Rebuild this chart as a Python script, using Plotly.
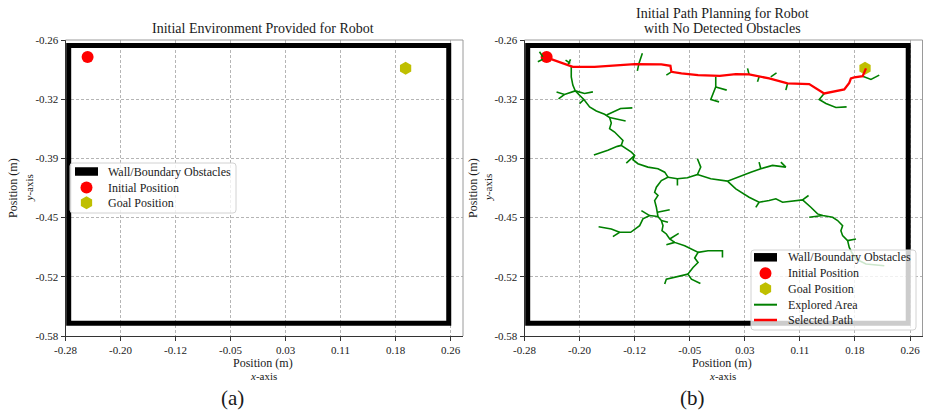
import plotly.graph_objects as go

# ---------------- data ----------------
x_tick_vals = [-0.28, -0.2029, -0.1257, -0.0486, 0.0286, 0.1057, 0.1829, 0.26]
x_tick_text = ["-0.28", "-0.20", "-0.12", "-0.05", "0.03", "0.11", "0.18", "0.26"]
y_tick_vals = [-0.58, -0.516, -0.452, -0.388, -0.324, -0.26]
y_tick_text = ["-0.58", "-0.52", "-0.45", "-0.39", "-0.32", "-0.26"]

wall_x = [-0.2755, 0.2575, 0.2575, -0.2755, -0.2755, 0.2575]
wall_y = [-0.266, -0.266, -0.5662, -0.5662, -0.266, -0.266]

start_x = [-0.249]
start_y = [-0.2785]
goal_x = [0.197]
goal_y = [-0.2905]

path_x = [-0.2496, -0.2193, -0.2123, -0.1818, -0.1257, -0.0883, -0.0756, -0.0742,
          -0.0602, -0.0369, -0.0065, 0.0160, 0.0346, 0.0627, 0.0885, 0.1188,
          0.1398, 0.1679, 0.1749, 0.1772, 0.1819, 0.1937, 0.1983]
path_y = [-0.2788, -0.2871, -0.2890, -0.2890, -0.2860, -0.2864, -0.2879, -0.2944,
          -0.2961, -0.2980, -0.2987, -0.2969, -0.2972, -0.3015, -0.3070, -0.3077,
          -0.3178, -0.3135, -0.3063, -0.3015, -0.3005, -0.2991, -0.2907]

explored_branches = [
    # main trunk
    [(-0.2145, -0.2890), (-0.2145, -0.2998), (-0.2123, -0.3088), (-0.2089, -0.3150),
     (-0.2029, -0.3197), (-0.1968, -0.3243), (-0.1888, -0.3323), (-0.1794, -0.3367),
     (-0.1678, -0.3403), (-0.1608, -0.3438), (-0.1584, -0.3497), (-0.1608, -0.3558),
     (-0.1538, -0.3595), (-0.1468, -0.3649), (-0.1421, -0.3685), (-0.1444, -0.3739),
     (-0.1374, -0.3775), (-0.1303, -0.3812), (-0.1257, -0.3847), (-0.1281, -0.3894),
     (-0.1211, -0.3937), (-0.1071, -0.3974), (-0.0930, -0.3992), (-0.0836, -0.4029),
     (-0.0790, -0.4083), (-0.0883, -0.4119), (-0.0953, -0.4191), (-0.0977, -0.4246),
     (-0.0930, -0.4281), (-0.0977, -0.4336), (-0.0953, -0.4408), (-0.0939, -0.4462),
     (-0.0930, -0.4509), (-0.0883, -0.4552), (-0.0860, -0.4607), (-0.0874, -0.4661),
     (-0.0813, -0.4697), (-0.0766, -0.4751), (-0.0696, -0.4788), (-0.0556, -0.4824),
     (-0.0462, -0.4859), (-0.0369, -0.4896), (-0.0416, -0.4957), (-0.0369, -0.5005),
     (-0.0439, -0.5059), (-0.0510, -0.5131), (-0.0462, -0.5185), (-0.0336, -0.5233)],
    [(-0.0510, -0.5131), (-0.0626, -0.5149), (-0.0813, -0.5185), (-0.0836, -0.5239)],
    [(-0.0369, -0.4896), (-0.0229, -0.4878), (-0.0027, -0.4878), (-0.0027, -0.4951)],
    [(-0.0766, -0.4751), (-0.0640, -0.4690)],
    [(-0.0696, -0.4788), (-0.0813, -0.4813)],
    [(-0.0930, -0.4509), (-0.1047, -0.4498), (-0.1141, -0.4534), (-0.1187, -0.4607),
     (-0.1313, -0.4679), (-0.1468, -0.4679), (-0.1562, -0.4726)],
    [(-0.1468, -0.4679), (-0.1584, -0.4643), (-0.1762, -0.4618)],
    [(-0.1047, -0.4498), (-0.1163, -0.4444)],
    [(-0.0939, -0.4462), (-0.0766, -0.4436)],
    [(-0.0883, -0.4552), (-0.0790, -0.4571)],
    # upper branches
    [(-0.2089, -0.3150), (-0.2239, -0.3189), (-0.2351, -0.3161)],
    [(-0.2239, -0.3189), (-0.2323, -0.3237)],
    [(-0.2089, -0.3150), (-0.1958, -0.3178), (-0.1842, -0.3161)],
    [(-0.1968, -0.3243), (-0.2029, -0.3287)],
    [(-0.1650, -0.3410), (-0.1454, -0.3341), (-0.1289, -0.3334)],
    [(-0.1608, -0.3438), (-0.1383, -0.3475)],
    [(-0.1444, -0.3739), (-0.1500, -0.3750), (-0.1632, -0.3793), (-0.1828, -0.3844)],
    [(-0.1257, -0.3847), (-0.1374, -0.3931)],
    # arc and right-hand branches
    [(-0.0790, -0.4083), (-0.0658, -0.4100), (-0.0518, -0.4089), (-0.0378, -0.4054),
     (-0.0331, -0.3974), (-0.0378, -0.3883)],
    [(-0.0658, -0.4100), (-0.0658, -0.4173)],
    [(-0.0378, -0.4054), (-0.0191, -0.4100), (0.0043, -0.4126), (0.0183, -0.4083),
     (0.0370, -0.4029), (0.0510, -0.3992), (0.0674, -0.3956), (0.0861, -0.3974)],
    [(0.0510, -0.3992), (0.0486, -0.3920)],
    [(0.0861, -0.3974), (0.0791, -0.3920)],
    [(0.0043, -0.4126), (0.0160, -0.4209), (0.0346, -0.4300), (0.0486, -0.4354),
     (0.0627, -0.4336), (0.0721, -0.4317), (0.0815, -0.4354), (0.0931, -0.4343),
     (0.1095, -0.4328), (0.1211, -0.4408), (0.1305, -0.4480), (0.1376, -0.4498),
     (0.1516, -0.4517), (0.1586, -0.4552), (0.1656, -0.4607), (0.1632, -0.4661),
     (0.1656, -0.4715), (0.1726, -0.4769), (0.1749, -0.4842), (0.1796, -0.4914),
     (0.1843, -0.4968), (0.1983, -0.5022), (0.2240, -0.5041)],
    [(0.0486, -0.4354), (0.0440, -0.4410)],
    [(0.1095, -0.4328), (0.1179, -0.4281)],
    [(0.1376, -0.4498), (0.1188, -0.4517)],
    [(0.1726, -0.4769), (0.1843, -0.4751)],
    # twigs along the selected path
    [(-0.0121, -0.2998), (-0.0121, -0.3107), (-0.0191, -0.3243), (-0.0075, -0.3269)],
    [(-0.0121, -0.3107), (0.0033, -0.3142)],
    [(-0.1149, -0.2744), (-0.1197, -0.2853), (-0.1219, -0.2933)],
    [(-0.0742, -0.2944), (-0.0813, -0.2980)],
    [(0.0324, -0.2907), (0.0346, -0.2972)],
    [(0.0486, -0.2998), (0.0464, -0.3052)],
    [(0.0650, -0.2998), (0.0730, -0.2955)],
    [(0.0885, -0.3070), (0.0861, -0.3142)],
    [(0.1398, -0.3178), (0.1328, -0.3243), (0.1422, -0.3287), (0.1562, -0.3330),
     (0.1712, -0.3323)],
    [(0.1937, -0.2991), (0.2053, -0.3026), (0.2169, -0.2980)],
    [(-0.2590, -0.2727), (-0.2543, -0.2781)],
    [(-0.2613, -0.2835), (-0.2543, -0.2809)],
    [(-0.2193, -0.2871), (-0.2155, -0.2809)],
    [(-0.2225, -0.2817), (-0.2159, -0.2853)],
]

# ---------------- styling ----------------
W, H = 926, 411
SERIF = "Liberation Serif"
TXT = "#1a1a1a"
RED = "#ff0000"
YEL = "#bfbf00"
GRN = "#008000"


def px(x):
    return x / W


def py(y):
    return 1 - y / H


tree_x, tree_y = [], []
for br in explored_branches:
    tree_x += [p[0] for p in br] + [None]
    tree_y += [p[1] for p in br] + [None]

fig = go.Figure()

for xa, ya in (("x", "y"), ("x2", "y2")):
    fig.add_trace(go.Scatter(x=wall_x, y=wall_y, mode="lines", xaxis=xa, yaxis=ya,
                             line=dict(color="black", width=5), hoverinfo="skip"))
    fig.add_trace(go.Scatter(x=start_x, y=start_y, mode="markers", xaxis=xa, yaxis=ya,
                             marker=dict(color=RED, size=12, symbol="circle")))
    fig.add_trace(go.Scatter(x=goal_x, y=goal_y, mode="markers", xaxis=xa, yaxis=ya,
                             marker=dict(color=YEL, size=13, symbol="hexagon")))

fig.add_trace(go.Scatter(x=tree_x, y=tree_y, mode="lines", xaxis="x2", yaxis="y2",
                         line=dict(color=GRN, width=1.6), connectgaps=False))
fig.add_trace(go.Scatter(x=path_x, y=path_y, mode="lines", xaxis="x2", yaxis="y2",
                         line=dict(color=RED, width=2.3)))

axis_common = dict(
    showline=True, linecolor="#333", linewidth=1, mirror=False, automargin=False,
    ticks="outside", ticklen=4, tickcolor="#333", tickwidth=1,
    tickfont=dict(family=SERIF, size=11, color=TXT),
    showgrid=True, gridcolor="#b5b5b5", gridwidth=0.8, griddash="3px,2px",
    zeroline=False, fixedrange=True,
)
ydom = [py(336), py(40)]
fig.update_layout(
    width=W, height=H, margin=dict(l=0, r=0, t=0, b=0, autoexpand=False),
    paper_bgcolor="white", plot_bgcolor="white", showlegend=False,
    xaxis=dict(domain=[px(65.5), px(463)], range=[-0.28, 0.2775], anchor="y",
               tickvals=x_tick_vals, ticktext=x_tick_text, **axis_common),
    yaxis=dict(domain=ydom, range=[-0.58, -0.26], anchor="x",
               tickvals=y_tick_vals, ticktext=y_tick_text, **axis_common),
    xaxis2=dict(domain=[px(524.5), px(922.5)], range=[-0.28, 0.2775], anchor="y2",
                tickvals=x_tick_vals, ticktext=x_tick_text, **axis_common),
    yaxis2=dict(domain=ydom, range=[-0.58, -0.26], anchor="x2",
                tickvals=y_tick_vals, ticktext=y_tick_text, **axis_common),
)

shapes = []
# light top / right spines
for xr, yr in (("x domain", "y domain"), ("x2 domain", "y2 domain")):
    shapes.append(dict(type="line", xref=xr, yref=yr, x0=0, x1=1, y0=1, y1=1,
                       line=dict(color="#9a9a9a", width=1), layer="above"))
    shapes.append(dict(type="line", xref=xr, yref=yr, x0=1, x1=1, y0=0, y1=1,
                       line=dict(color="#9a9a9a", width=1), layer="above"))


def rounded_box(cx, cy, a, b, r=3):
    path = (f"M {-a + r},{-b} L {a - r},{-b} Q {a},{-b} {a},{-b + r} "
            f"L {a},{b - r} Q {a},{b} {a - r},{b} L {-a + r},{b} Q {-a},{b} {-a},{b - r} "
            f"L {-a},{-b + r} Q {-a},{-b} {-a + r},{-b} Z")
    return dict(type="path", xref="paper", yref="paper", xsizemode="pixel",
                ysizemode="pixel", xanchor=px(cx), yanchor=py(cy), path=path,
                fillcolor="rgba(255,255,255,0.8)", line=dict(color="#d2d2d2", width=1),
                layer="above")


def circle_mark(cx, cy, r, color):
    return dict(type="circle", xref="paper", yref="paper", xsizemode="pixel",
                ysizemode="pixel", xanchor=px(cx), yanchor=py(cy),
                x0=-r, x1=r, y0=-r, y1=r, fillcolor=color, line=dict(width=0),
                layer="above")


def hex_mark(cx, cy, r, color):
    s = round(r * 0.866, 2)
    h = r / 2
    path = f"M 0,{r} L {s},{h} L {s},{-h} L 0,{-r} L {-s},{-h} L {-s},{h} Z"
    return dict(type="path", xref="paper", yref="paper", xsizemode="pixel",
                ysizemode="pixel", xanchor=px(cx), yanchor=py(cy), path=path,
                fillcolor=color, line=dict(width=0), layer="above")


def patch(x0, x1, yc, h):
    return dict(type="rect", xref="paper", yref="paper", x0=px(x0), x1=px(x1),
                y0=py(yc + h / 2), y1=py(yc - h / 2), fillcolor="black",
                line=dict(width=0), layer="above")


def seg(x0, x1, yc, color, w):
    return dict(type="line", xref="paper", yref="paper", x0=px(x0), x1=px(x1),
                y0=py(yc), y1=py(yc), line=dict(color=color, width=w), layer="above")


# legend (a)
shapes.append(rounded_box(153, 188, 83, 25))
shapes.append(patch(75, 98, 171.5, 8.5))
shapes.append(circle_mark(86.5, 187.5, 6, RED))
shapes.append(hex_mark(86.5, 202.7, 6.5, YEL))
# legend (b)
shapes.append(rounded_box(833.5, 290, 82.5, 40))
shapes.append(patch(754, 777, 257.3, 8.5))
shapes.append(circle_mark(765.5, 273.3, 6, RED))
shapes.append(hex_mark(765.5, 288.7, 6.5, YEL))
shapes.append(seg(754, 777, 304.7, GRN, 2))
shapes.append(seg(754, 777, 320, RED, 2.5))
fig.update_layout(shapes=shapes)

ann = []


def text(x, y, s, size, xanchor="center", angle=0):
    ann.append(dict(x=px(x), y=py(y), xref="paper", yref="paper", text=s,
                    showarrow=False, xanchor=xanchor, yanchor="middle",
                    textangle=angle, font=dict(family=SERIF, size=size, color=TXT)))


text(263, 28.3, "Initial Environment Provided for Robot", 14)
text(722, 14, "Initial Path Planning for Robot", 14)
text(722, 28.5, "with No Detected Obstacles", 14)
for cx in (263, 722):
    text(cx, 363, "Position (m)", 12)
    text(cx, 375.5, "<i>x</i>-axis", 11)
text(13, 188, "Position (m)", 12, angle=-90)
text(28.5, 188, "<i>y</i>-axis", 11, angle=-90)
text(473, 188, "Position (m)", 12, angle=-90)
text(488, 188, "<i>y</i>-axis", 11, angle=-90)
text(233, 398, "(a)", 21)
text(692, 398, "(b)", 21)

legend_a = ["Wall/Boundary Obstacles", "Initial Position", "Goal Position"]
for lab, yy in zip(legend_a, (171.5, 187.5, 202.7)):
    text(106, yy, lab, 12, xanchor="left")
legend_b = ["Wall/Boundary Obstacles", "Initial Position", "Goal Position",
            "Explored Area", "Selected Path"]
for lab, yy in zip(legend_b, (257.3, 273.3, 288.7, 304.7, 320)):
    text(786, yy, lab, 12, xanchor="left")

fig.update_layout(annotations=ann)
fig.write_html(
    "out.html",
    config={"displayModeBar": False},
    post_script="document.body.style.margin='0';document.body.style.overflow='hidden';",
)
